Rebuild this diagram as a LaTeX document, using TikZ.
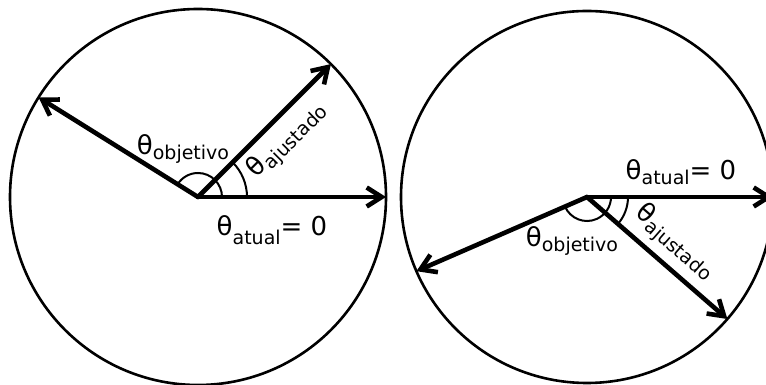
\documentclass[tikz,border=0pt]{standalone}
\usepackage{fontspec}
\setmainfont{DejaVu Sans}
\usetikzlibrary{arrows.meta,calc}

\tikzset{
  rim/.style={line width=2.6pt},
  vec/.style={line width=4.6pt, line cap=round,
    -{Straight Barb[length=15pt,width=19pt]}},
  ang/.style={line width=2pt},
  lbl/.style={inner sep=0pt},
}
% theta with a lowered subscript word
\newcommand{\angtxt}[2][5pt]{\fontsize{26}{28}\selectfont θ\raisebox{-#1}{\fontsize{19}{20}\selectfont #2}}

\begin{document}
\begin{tikzpicture}[x=1pt,y=1pt]
  \useasboundingbox (0,0) rectangle (766,385);
  \clip (0,0) rectangle (766,385);

  % Left circle
  \coordinate (o1) at (198,188);
  \draw[rim] (o1) circle[radius=188];
  \coordinate (atual1) at ($(o1)+(0:188)$);
  \coordinate (ajust1) at ($(o1)+(45:188)$);
  \coordinate (objet1) at ($(o1)+(148:188)$);

  \draw[vec] (o1) -- (atual1);   % atual
  \draw[vec] (o1) -- (ajust1);   % ajustado
  \draw[vec] (o1) -- (objet1);   % objetivo

  % angle arcs
  \draw[ang] ($(o1)+(0:24)$) arc[start angle=0, end angle=148, radius=24];
  \draw[ang] ($(o1)+(0:49)$) arc[start angle=0, end angle=45, radius=49];

  % Labels
  \node[lbl] (l1obj) at (183,236) {\angtxt{objetivo}};
  \node[lbl, rotate=45] (l1aju) at (287,245) {\angtxt{ajustado}};
  \node[lbl] (l1atu) at (272,155) {\angtxt[9pt]{atual}= 0};

  % Right circle
  \coordinate (o2) at (587,188);
  \draw[rim] (o2) circle[radius=186];
  \coordinate (atual2) at ($(o2)+(0:186)$);
  \coordinate (ajust2) at ($(o2)+(-41:186)$);
  \coordinate (objet2) at ($(o2)+(203.5:186)$);

  \draw[vec] (o2) -- (atual2);   % atual
  \draw[vec] (o2) -- (ajust2);   % ajustado
  \draw[vec] (o2) -- (objet2);   % objetivo

  % angle arcs
  \draw[ang] ($(o2)+(203.5:24)$) arc[start angle=203.5, end angle=360, radius=24];
  \draw[ang] ($(o2)+(-41:41)$) arc[start angle=-41, end angle=0, radius=41];

  % Labels
  \node[lbl] (l2atu) at (681,213) {\angtxt{atual}= 0};
  \node[lbl] (l2obj) at (572,144) {\angtxt{objetivo}};
  \node[lbl, rotate=-41] (l2aju) at (675,143) {\angtxt{ajustado}};
\end{tikzpicture}
\end{document}
